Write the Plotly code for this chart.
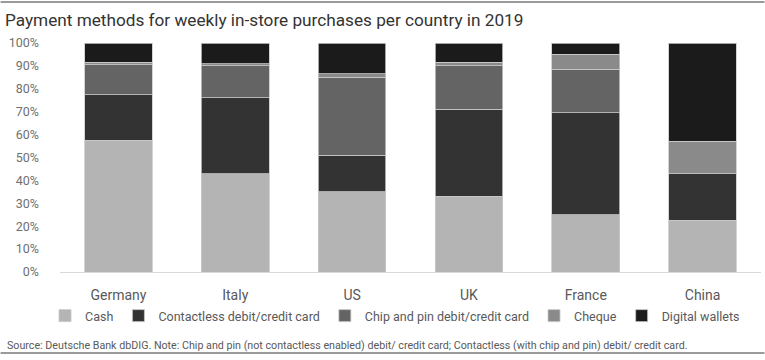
import plotly.graph_objects as go

countries = ["Germany", "Italy", "US", "UK", "France", "China"]
cash = [57.5, 43, 35, 33, 25, 22.5]
contactless = [20, 33, 16, 38, 44.5, 20.5]
chip_pin = [13, 14, 34, 19, 19, 0]
cheque = [1, 1, 1.5, 1.5, 6.5, 14]
digital = [8.5, 9, 13.5, 8.5, 5, 43]

series = [
    ("Cash", cash, "#b4b4b4"),
    ("Contactless debit/credit card", contactless, "#333333"),
    ("Chip and pin debit/credit card", chip_pin, "#646464"),
    ("Cheque", cheque, "#8a8a8a"),
    ("Digital wallets", digital, "#1b1b1b"),
]

W, H = 765, 360
ml, mr, mt, mb = 59.5, 3.5, 43, 88
pw = W - ml - mr
ph = H - mt - mb

fig = go.Figure()
for name, vals, col in series:
    fig.add_trace(go.Bar(
        x=countries, y=vals, name=name,
        marker=dict(color=col, line=dict(color="#c8c8c8", width=0.8)),
    ))

base = "Roboto, sans-serif"

fig.update_layout(
    width=W, height=H,
    margin=dict(l=ml, r=mr, t=mt, b=mb),
    barmode="stack", bargap=0.42,
    plot_bgcolor="white", paper_bgcolor="white",
    title=dict(text="Payment methods for weekly in-store purchases per country in 2019",
               x=5 / W, xref="container", xanchor="left",
               y=1 - 20 / H, yref="container", yanchor="middle",
               font=dict(family=base, size=17.2, color="#333333")),
    font=dict(family=base, color="#595959"),
    xaxis=dict(showgrid=False, showline=True, linecolor="#d9d9d9", linewidth=1,
               ticks="", tickfont=dict(size=14, color="#595959"), ticklabelstandoff=10),
    yaxis=dict(range=[0, 100], dtick=10, ticksuffix="%", showgrid=False, zeroline=False,
               showline=False, ticks="", ticklabelstandoff=20,
               tickfont=dict(size=12.5, color="#707070")),
    legend=dict(orientation="h", x=(395 - ml) / pw, xanchor="center", y=(mt + ph - 316) / ph,
                yref="paper", yanchor="middle", font=dict(size=12.5, color="#595959"),
                traceorder="normal", itemwidth=30, bgcolor="rgba(0,0,0,0)"),
    showlegend=True,
)

def px_x(p):
    return (p - ml) / pw

def px_y(p):
    return (mt + ph - p) / ph

fig.add_annotation(text="Source: Deutsche Bank dbDIG. Note: Chip and pin (not contactless enabled) debit/ credit card; Contactless (with chip and pin) debit/ credit card.",
                   xref="paper", yref="paper", x=px_x(4), y=px_y(345), xanchor="left", yanchor="middle",
                   showarrow=False, font=dict(size=10.7, color="#595959", family=base))

for yy in (2, 353):
    fig.add_shape(type="line", xref="paper", yref="paper", x0=px_x(0), x1=px_x(W),
                  y0=px_y(yy), y1=px_y(yy), line=dict(color="#9a9a9a", width=2))

fig.write_html("out.html", config={"displayModeBar": False},
               post_script="document.body.style.margin='0';")
